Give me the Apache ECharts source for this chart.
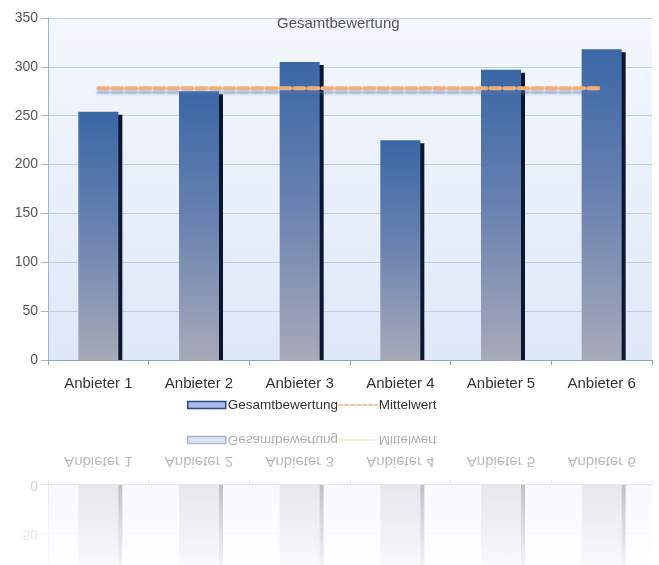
<!DOCTYPE html>
<html><head><meta charset="utf-8">
<script src="https://cdn.jsdelivr.net/npm/echarts@6/dist/echarts.min.js"></script>
<style>
html,body{margin:0;padding:0;background:#fff;width:659px;height:565px;overflow:hidden;}
#main{position:absolute;left:0;top:0;width:659px;height:565px;}
#refl{position:absolute;left:0;top:423px;width:659px;height:142px;overflow:hidden;}
#mirror{position:absolute;left:0;top:-143px;width:659px;height:565px;transform:scaleY(-1);transform-origin:center center;}
#fade{position:absolute;left:0;top:0;width:659px;height:142px;background:linear-gradient(to bottom,rgba(255,255,255,0.55),rgba(255,255,255,0.8) 60%,rgba(255,255,255,0.95));}
</style></head>
<body>
<div id="main"></div>
<div id="refl"><div id="mirror"></div><div id="fade"></div></div>
<script>
var categories = ['Anbieter 1','Anbieter 2','Anbieter 3','Anbieter 4','Anbieter 5','Anbieter 6'];
var gesamtbewertung = [254, 275, 305, 225, 297, 318];
var mittelwert = [278, 278, 278, 278, 278, 278];
var titleText = 'Gesamtbewertung';

function makeOption(){
  var font = 'Liberation Sans, Arial, sans-serif';
  return {
    animation:false,
    textStyle:{fontFamily:font},
    title:{text:titleText,left:272,top:11,textStyle:{fontSize:15,fontWeight:'normal',color:'#555',fontFamily:font}},
    grid:{left:48,right:7,top:18,bottom:205,show:true,borderWidth:0,
      backgroundColor:new echarts.graphic.LinearGradient(0,0,0,1,[{offset:0,color:'#f4f7fd'},{offset:1,color:'#dfe8f8'}])},
    graphic:[{type:'rect',left:48,top:361,shape:{width:606,height:4},style:{fill:'#ffffff'},z:10,silent:true}],
    legend:{left:187,top:398,padding:0,itemGap:0,itemWidth:38,itemHeight:7,
      textStyle:{fontSize:13.5,color:'#333',fontFamily:font,padding:[0,0,0,-3]},
      data:[
        {name:'Gesamtbewertung',icon:'rect',itemStyle:{color:'#a8bde6',borderColor:'#2a4a7f',borderWidth:1.5}},
        {name:'Mittelwert',itemStyle:{opacity:0,color:'rgba(0,0,0,0)',borderWidth:0},lineStyle:{width:1.5,type:[4,2],color:'#f0b27a',shadowBlur:0,shadowOffsetY:0}}
      ]},
    xAxis:{type:'category',data:categories,z:20,
      axisLine:{lineStyle:{color:'#8fa5bd',width:1}},
      axisTick:{show:true,length:5,lineStyle:{color:'#8fa5bd'}},
      axisLabel:{fontSize:15,color:'#333',margin:16,fontFamily:font}},
    yAxis:{type:'value',min:0,max:350,interval:50,
      axisLine:{show:true,lineStyle:{color:'#9cb3c9'}},
      axisTick:{show:true,length:7,lineStyle:{color:'#9cb3c9'}},
      axisLabel:{fontSize:14,color:'#555',margin:10,fontFamily:font},
      splitLine:{lineStyle:{color:'#b7d2e2',width:1}}},
    series:[
      {name:'Gesamtbewertung',type:'bar',data:gesamtbewertung,barWidth:40,
        itemStyle:{color:new echarts.graphic.LinearGradient(0,0,0,1,[{offset:0,color:'#3a67a5'},{offset:0.45,color:'#6680b0'},{offset:1,color:'#a8aab8'}]),
          borderWidth:0,
          shadowColor:'#0b1630',shadowBlur:0,shadowOffsetX:4,shadowOffsetY:3}},
      {name:'Mittelwert',type:'line',data:mittelwert,symbol:'none',z:5,
        itemStyle:{color:'#f0b07a'},
        lineStyle:{color:'#f0b07a',width:4,type:[10,4],cap:'round',
          shadowColor:'rgba(90,120,180,0.45)',shadowBlur:2,shadowOffsetY:4}}
    ]
  };
}
var c1 = echarts.init(document.getElementById('main'),null,{renderer:'canvas'});
c1.setOption(makeOption());
var c2 = echarts.init(document.getElementById('mirror'),null,{renderer:'canvas'});
c2.setOption(makeOption());
</script>
</body></html>
